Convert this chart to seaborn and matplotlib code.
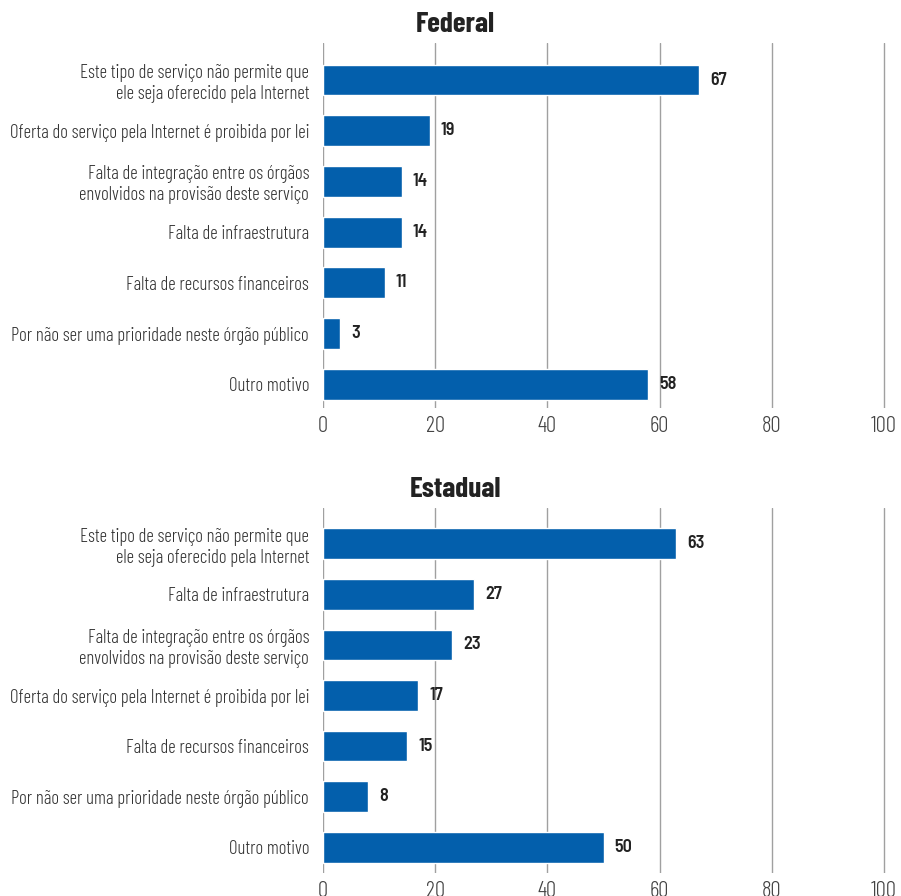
import matplotlib
matplotlib.use("Agg")
import pandas as pd
import matplotlib.pyplot as plt
import seaborn as sns

# Data
fed_labels = [
    "Este tipo de serviço não permite que\nele seja oferecido pela Internet",
    "Oferta do serviço pela Internet é proibida por lei",
    "Falta de integração entre os órgãos\nenvolvidos na provisão deste serviço",
    "Falta de infraestrutura",
    "Falta de recursos financeiros",
    "Por não ser uma prioridade neste órgão público",
    "Outro motivo",
]
fed_values = [67, 19, 14, 14, 11, 3, 58]

est_labels = [
    "Este tipo de serviço não permite que\nele seja oferecido pela Internet",
    "Falta de infraestrutura",
    "Falta de integração entre os órgãos\nenvolvidos na provisão deste serviço",
    "Oferta do serviço pela Internet é proibida por lei",
    "Falta de recursos financeiros",
    "Por não ser uma prioridade neste órgão público",
    "Outro motivo",
]
est_values = [63, 27, 23, 17, 15, 8, 50]

x_ticks = [0, 20, 40, 60, 80, 100]

sns.set_style("white")
plt.rcParams["font.family"] = ["Barlow Condensed", "Liberation Sans Narrow", "DejaVu Sans"]

BLUE = "#035fac"
fig = plt.figure(figsize=(9.01, 8.96), dpi=100)
ax1 = fig.add_axes([0.3585, 0.5446, 0.6245, 0.4074])
ax2 = fig.add_axes([0.3585, 0.0257, 0.6245, 0.4074])


def draw(ax, labels, values, title, ylim):
    df = pd.DataFrame({"motivo": labels, "valor": values})
    sns.barplot(data=df, y="motivo", x="valor", orient="h", color=BLUE,
                width=0.61, saturation=1, ax=ax)
    ax.set_xlim(0, 100.3)
    ax.set_ylim(*ylim)
    ax.set_xticks(x_ticks)
    ax.set_xlabel("")
    ax.set_ylabel("")
    ax.grid(axis="x", color="#a0a0a0", linewidth=1)
    ax.grid(axis="y", visible=False)
    ax.set_axisbelow(True)
    sns.despine(ax=ax, left=True, bottom=True)
    ax.tick_params(axis="both", length=0)
    ax.tick_params(axis="y", pad=10, labelsize=13.5, labelcolor="#333333")
    ax.tick_params(axis="x", pad=6, labelsize=16.5, labelcolor="#444444")
    for t in ax.get_yticklabels():
        t.set_multialignment("right")
        t.set_fontweight(300)
    for t in ax.get_xticklabels():
        t.set_fontweight(300)
    for container in ax.containers:
        ax.bar_label(container, padding=8, fontsize=13, fontweight=600,
                     color="#222222",
                     family=["Barlow Semi Condensed", "Barlow Condensed", "DejaVu Sans"])
    # title sits near the middle of the figure, not the axes
    ax.set_title(title, fontsize=21, fontweight=700, color="#222222", pad=8,
                 x=0.235)


draw(ax1, fed_labels, fed_values, "Federal", (6.47, -0.73))
draw(ax2, est_labels, est_values, "Estadual", (6.51, -0.71))

plt.savefig("out.png", dpi=100)
